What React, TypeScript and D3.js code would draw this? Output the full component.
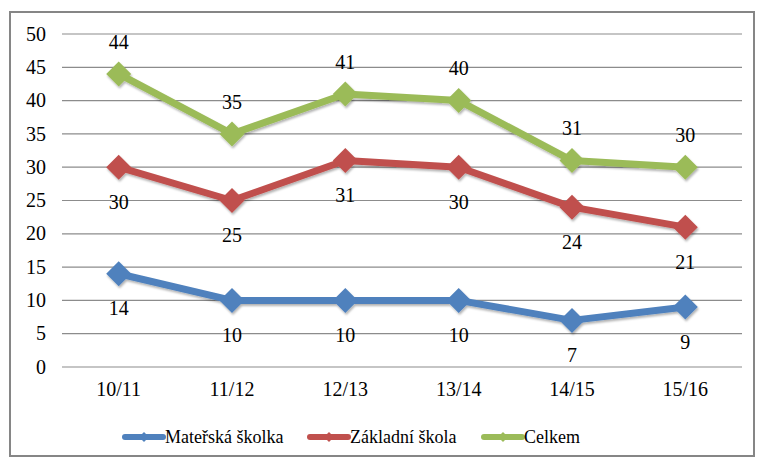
import * as d3 from "d3";

const categories = ["10/11", "11/12", "12/13", "13/14", "14/15", "15/16"];
const materska = [14, 10, 10, 10, 7, 9];
const zakladni = [30, 25, 31, 30, 24, 21];
const celkem = [44, 35, 41, 40, 31, 30];
const yTicks = [0, 5, 10, 15, 20, 25, 30, 35, 40, 45, 50];

const series = [
  { name: "Mateřská školka", values: materska, color: "#4F81BD", labelPos: "below" },
  { name: "Základní škola", values: zakladni, color: "#C0504D", labelPos: "below" },
  { name: "Celkem", values: celkem, color: "#9BBB59", labelPos: "above" },
];

const W = 757;
const H = 459;
const font = "Liberation Serif";

export default function App() {
  const x = d3.scaleBand<string>().domain(categories).range([62, 742]);
  const y = d3.scaleLinear().domain([0, 50]).range([367, 34]);
  const cx = (c: string) => (x(c) as number) + x.bandwidth() / 2;

  const line = d3
    .line<number>()
    .x((_, i) => cx(categories[i]))
    .y((d) => y(d));

  const diamond = (px: number, py: number, r: number) =>
    `M${px},${py - r}L${px + r},${py}L${px},${py + r}L${px - r},${py}Z`;

  // legend layout
  const legendX = [125, 310, 484];

  return (
    <svg width={W} height={H} style={{ position: "absolute", left: 0, top: 0 }}>
      <defs>
        <filter id="sh" x="-20%" y="-20%" width="140%" height="160%">
          <feDropShadow dx="1" dy="2" stdDeviation="1.2" floodColor="#000" floodOpacity="0.3" />
        </filter>
      </defs>
      <rect x={0} y={0} width={W} height={H} fill="#fff" />
      <rect x={10} y={12} width={744} height={444} fill="#fff" stroke="#868686" strokeWidth={2} />

      {yTicks.map((t) => (
        <g key={t}>
          <line x1={62} x2={742} y1={y(t)} y2={y(t)} stroke="#8c8c8c" strokeWidth={1.2} />
          <text x={46} y={y(t)} dy="0.33em" textAnchor="end" fontFamily={font} fontSize={20}>
            {t}
          </text>
        </g>
      ))}

      {categories.map((c) => (
        <text
          key={c}
          x={cx(c)}
          y={389}
          dy="0.33em"
          textAnchor="middle"
          fontFamily={font}
          fontSize={20}
        >
          {c}
        </text>
      ))}

      {series.map((s) => (
        <g key={s.name} filter="url(#sh)">
          <path
            d={line(s.values) as string}
            fill="none"
            stroke={s.color}
            strokeWidth={7}
            strokeLinejoin="round"
          />
          {s.values.map((v, i) => (
            <path key={i} d={diamond(cx(categories[i]), y(v), 12.5)} fill={s.color} />
          ))}
        </g>
      ))}

      {series.map((s) =>
        s.values.map((v, i) => (
          <text
            key={s.name + i}
            x={cx(categories[i])}
            y={y(v) + (s.labelPos === "above" ? -32 : 35)}
            dy="0.33em"
            textAnchor="middle"
            fontFamily={font}
            fontSize={20}
          >
            {v}
          </text>
        ))
      )}

      {series.map((s, i) => (
        <g key={s.name} transform={`translate(${legendX[i]},437)`}>
          <line x1={0} x2={38} y1={0} y2={0} stroke={s.color} strokeWidth={6} strokeLinecap="round" />
          <path d={diamond(19, 0, 5)} fill={s.color} />
          <text x={40} y={0} dy="0.33em" fontFamily={font} fontSize={18}>
            {s.name}
          </text>
        </g>
      ))}
    </svg>
  );
}
